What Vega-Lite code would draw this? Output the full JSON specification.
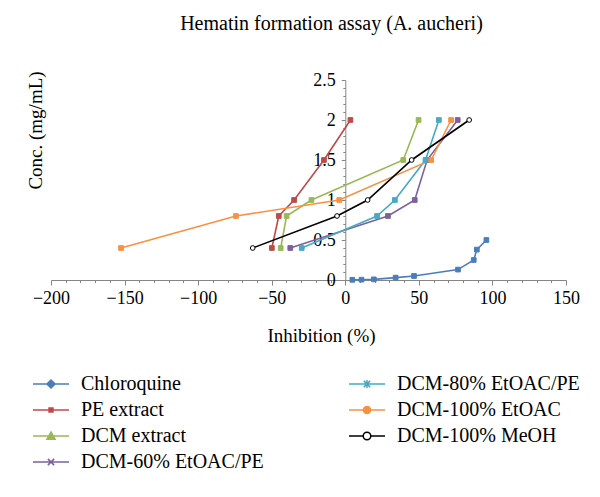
{
  "$schema": "https://vega.github.io/schema/vega-lite/v6.json",
  "autosize": {"type": "none"},
  "width": 515,
  "height": 200,
  "padding": {"left": 51, "top": 80, "right": 34, "bottom": 217},
  "background": "white",
  "title": {
    "text": "Hematin formation assay (A. aucheri)",
    "font": "Liberation Serif",
    "fontSize": 20,
    "fontWeight": "normal",
    "color": "black",
    "anchor": "middle",
    "dx": 23,
    "offset": 37
  },
  "config": {
    "view": {"stroke": null},
    "axis": {
      "grid": false,
      "domainColor": "#868686",
      "tickColor": "#868686",
      "labelFont": "Liberation Serif",
      "labelFontSize": 18,
      "labelColor": "black",
      "titleFont": "Liberation Serif",
      "titleFontSize": 19,
      "titleFontWeight": "normal",
      "titleColor": "black"
    }
  },
  "data": {
    "values": [
      {"s": "Chloroquine", "x": 4.8, "y": 0.002},
      {"s": "Chloroquine", "x": 11.0, "y": 0.004},
      {"s": "Chloroquine", "x": 19.4, "y": 0.008},
      {"s": "Chloroquine", "x": 34.2, "y": 0.03},
      {"s": "Chloroquine", "x": 46.7, "y": 0.05},
      {"s": "Chloroquine", "x": 76.6, "y": 0.13},
      {"s": "Chloroquine", "x": 87.3, "y": 0.25},
      {"s": "Chloroquine", "x": 89.4, "y": 0.38},
      {"s": "Chloroquine", "x": 95.9, "y": 0.5},
      {"s": "PE extract", "x": -49.9, "y": 0.4},
      {"s": "PE extract", "x": -45.2, "y": 0.8},
      {"s": "PE extract", "x": -34.8, "y": 1.0},
      {"s": "PE extract", "x": -14.5, "y": 1.5},
      {"s": "PE extract", "x": 3.5, "y": 2.0},
      {"s": "DCM extract", "x": -43.9, "y": 0.4},
      {"s": "DCM extract", "x": -39.9, "y": 0.8},
      {"s": "DCM extract", "x": -23.0, "y": 1.0},
      {"s": "DCM extract", "x": 39.4, "y": 1.5},
      {"s": "DCM extract", "x": 49.8, "y": 2.0},
      {"s": "DCM-60% EtOAC/PE", "x": -37.4, "y": 0.4},
      {"s": "DCM-60% EtOAC/PE", "x": 29.0, "y": 0.8},
      {"s": "DCM-60% EtOAC/PE", "x": 47.2, "y": 1.0},
      {"s": "DCM-60% EtOAC/PE", "x": 55.6, "y": 1.5},
      {"s": "DCM-60% EtOAC/PE", "x": 76.4, "y": 2.0},
      {"s": "DCM-80% EtOAC/PE", "x": -29.6, "y": 0.4},
      {"s": "DCM-80% EtOAC/PE", "x": 21.6, "y": 0.8},
      {"s": "DCM-80% EtOAC/PE", "x": 33.7, "y": 1.0},
      {"s": "DCM-80% EtOAC/PE", "x": 54.5, "y": 1.5},
      {"s": "DCM-80% EtOAC/PE", "x": 63.6, "y": 2.0},
      {"s": "DCM-100% EtOAC", "x": -152.4, "y": 0.4},
      {"s": "DCM-100% EtOAC", "x": -74.3, "y": 0.8},
      {"s": "DCM-100% EtOAC", "x": -4.1, "y": 1.0},
      {"s": "DCM-100% EtOAC", "x": 58.4, "y": 1.5},
      {"s": "DCM-100% EtOAC", "x": 71.9, "y": 2.0},
      {"s": "DCM-100% MeOH", "x": -62.9, "y": 0.4},
      {"s": "DCM-100% MeOH", "x": -5.6, "y": 0.8},
      {"s": "DCM-100% MeOH", "x": 15.2, "y": 1.0},
      {"s": "DCM-100% MeOH", "x": 45.1, "y": 1.5},
      {"s": "DCM-100% MeOH", "x": 84.2, "y": 2.0}
    ]
  },
  "encoding": {
    "x": {
      "field": "x", "type": "quantitative",
      "scale": {"domain": [-200, 150], "nice": false, "zero": false},
      "axis": {
        "title": "Inhibition (%)",
        "values": [-200,-190,-180,-170,-160,-150,-140,-130,-120,-110,-100,-90,-80,-70,-60,-50,-40,-30,-20,-10,0,10,20,30,40,50,60,70,80,90,100,110,120,130,140,150],
        "labelExpr": "datum.value % 50 === 0 ? datum.label : ''",
        "tickSize": {"condition": {"test": "datum.value % 50 === 0", "value": 5}, "value": 2.5},
        "labelPadding": 4,
        "labelFlush": false,
        "titleX": 270,
        "titleY": 55,
        "titleBaseline": "middle"
      }
    },
    "y": {
      "field": "y", "type": "quantitative",
      "scale": {"domain": [0, 2.5], "nice": false},
      "axis": {
        "title": "Conc. (mg/mL)",
        "offset": -294.3,
        "values": [0,0.1,0.2,0.3,0.4,0.5,0.6,0.7,0.8,0.9,1,1.1,1.2,1.3,1.4,1.5,1.6,1.7,1.8,1.9,2,2.1,2.2,2.3,2.4,2.5],
        "labelExpr": "abs(datum.value*2-round(datum.value*2)) < 0.001 ? format(datum.value, '~g') : ''",
        "tickSize": {"condition": {"test": "abs(datum.value*2-round(datum.value*2)) < 0.001", "value": 4}, "value": 2.5},
        "labelPadding": 6,
        "labelFlush": false,
        "titleX": -310,
        "titleY": 50,
        "titleAngle": -90,
        "titleBaseline": "middle",
        "titleAlign": "center"
      }
    }
  },
  "layer": [
    {
      "transform": [{"filter": "datum.y < 0"}],
      "mark": {"type": "point", "filled": true, "strokeWidth": 1.5, "opacity": 1},
      "encoding": {
        "fill": {
          "field": "s", "type": "nominal",
          "scale": {
            "domain": ["Chloroquine", "PE extract", "DCM extract", "DCM-60% EtOAC/PE", "DCM-80% EtOAC/PE", "DCM-100% EtOAC", "DCM-100% MeOH"],
            "range": ["#4A7EBB", "#BE4B48", "#98B954", "#7D60A0", "#46AAC5", "#F69240", "#ffffff"]
          },
          "legend": {
            "title": null,
            "orient": "none",
            "legendX": -10,
            "legendY": 294,
            "columns": 2,
            "columnPadding": 82,
            "rowPadding": 6,
            "symbolSize": 324,
            "symbolStrokeWidth": 1.5,
            "symbolOpacity": 1,
            "labelOffset": 20,
            "labelFont": "Liberation Serif",
            "labelFontSize": 20,
            "labelColor": "black",
            "labelLimit": 400
          }
        },
        "stroke": {
          "field": "s", "type": "nominal",
          "scale": {
            "domain": ["Chloroquine", "PE extract", "DCM extract", "DCM-60% EtOAC/PE", "DCM-80% EtOAC/PE", "DCM-100% EtOAC", "DCM-100% MeOH"],
            "range": ["#4A7EBB", "#BE4B48", "#98B954", "#7D60A0", "#46AAC5", "#F69240", "#000000"]
          },
          "legend": {
            "title": null,
            "orient": "none",
            "legendX": -10,
            "legendY": 294,
            "columns": 2,
            "columnPadding": 82,
            "rowPadding": 6,
            "symbolSize": 324,
            "symbolStrokeWidth": 1.5,
            "symbolOpacity": 1,
            "labelOffset": 20,
            "labelFont": "Liberation Serif",
            "labelFontSize": 20,
            "labelColor": "black",
            "labelLimit": 400
          }
        },
        "shape": {
          "field": "s", "type": "nominal",
          "scale": {
            "domain": ["Chloroquine", "PE extract", "DCM extract", "DCM-60% EtOAC/PE", "DCM-80% EtOAC/PE", "DCM-100% EtOAC", "DCM-100% MeOH"],
            "range": [
              "M-2,0H2M0,-0.45L0.45,0L0,0.45L-0.45,0Z",
              "M-2,0H2M-0.22,-0.22H0.22V0.22H-0.22Z",
              "M-2,0H2M0,-0.45L0.45,0.35H-0.45Z",
              "M-2,0H2M-0.35,-0.35L0.35,0.35M-0.35,0.35L0.35,-0.35",
              "M-2,0H2M-0.35,-0.35L0.35,0.35M-0.35,0.35L0.35,-0.35M0,-0.45V0.45",
              "M-2,0H2M-0.4,0A0.4,0.4,0,1,0,0.4,0A0.4,0.4,0,1,0,-0.4,0Z",
              "M-2,0H-0.42M0.42,0H2M-0.42,0A0.42,0.42,0,1,0,0.42,0A0.42,0.42,0,1,0,-0.42,0Z"
            ]
          },
          "legend": {
            "title": null,
            "orient": "none",
            "legendX": -10,
            "legendY": 294,
            "columns": 2,
            "columnPadding": 82,
            "rowPadding": 6,
            "symbolSize": 324,
            "symbolStrokeWidth": 1.5,
            "symbolOpacity": 1,
            "labelOffset": 20,
            "labelFont": "Liberation Serif",
            "labelFontSize": 20,
            "labelColor": "black",
            "labelLimit": 400
          }
        }
      }
    },
    {
      "mark": {"type": "line", "strokeWidth": 1.6},
      "encoding": {
        "stroke": {"field": "s", "type": "nominal", "legend": null},
        "order": {"field": "y", "type": "quantitative"}
      }
    },
    {
      "mark": {"type": "point", "filled": true, "size": 22, "strokeWidth": 1, "opacity": 1},
      "encoding": {
        "fill": {"field": "s", "type": "nominal", "legend": null},
        "stroke": {"field": "s", "type": "nominal", "legend": null},
        "shape": {"condition": {"test": "datum.s === 'DCM-100% MeOH'", "value": "circle"}, "value": "square"}
      }
    }
  ]
}
